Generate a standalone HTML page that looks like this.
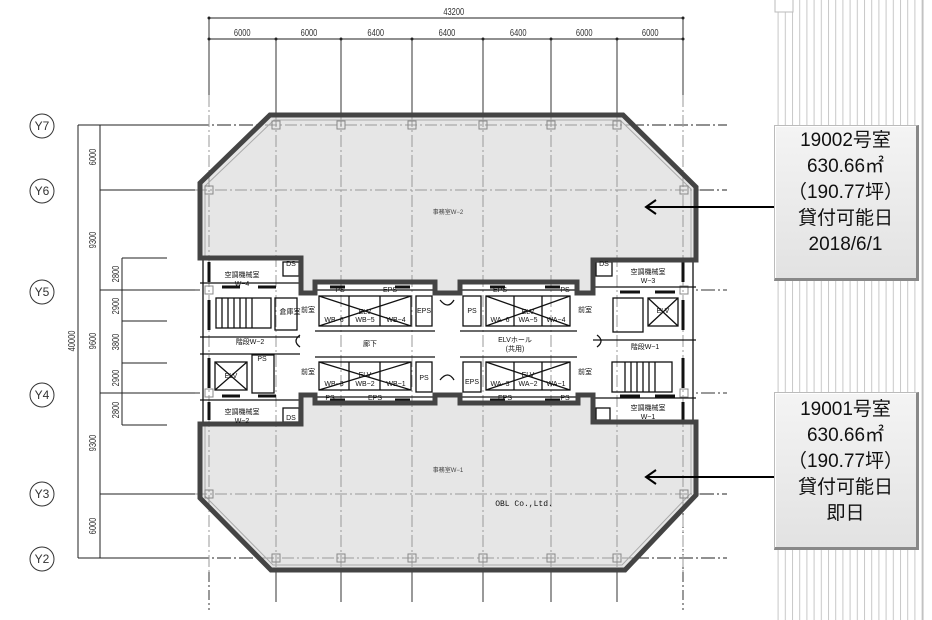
<!DOCTYPE html>
<html><head><meta charset="utf-8"><style>
html,body{margin:0;padding:0;background:#fff;width:932px;height:620px;overflow:hidden}
svg{position:absolute;left:0;top:0}
.box{position:absolute;left:774px;width:141px;background:linear-gradient(#f4f4f4,#e2e2e2);border:1px solid #bbb;border-right:3px solid #888;border-bottom:3px solid #888;box-shadow:inset 1px 1px 0 #fff;font-family:"Liberation Sans","Noto Sans CJK JP",sans-serif;font-size:19px;line-height:26px;text-align:center;color:#111}
</style></head><body>
<svg width="932" height="620" viewBox="0 0 932 620" font-family="Liberation Sans, Noto Sans CJK JP, sans-serif">
<defs>
<pattern id="st" width="7.2" height="10" patternUnits="userSpaceOnUse"><rect width="7.2" height="10" fill="#fff"/><line x1="0.5" y1="0" x2="0.5" y2="10" stroke="#c8c8c8" stroke-width="1"/></pattern>
</defs>
<rect x="774" y="0" width="150" height="620" fill="url(#st)"/>
<line x1="923" y1="0" x2="923" y2="620" stroke="#bbb"/>
<rect x="775" y="-2" width="18" height="14" fill="#fff" stroke="#bbb"/>

<g stroke="#222" stroke-width="1" fill="none">
<line x1="209" y1="18" x2="683" y2="18"/>
<line x1="209" y1="39" x2="683" y2="39"/>
</g>
<g font-size="10" fill="#333" text-anchor="middle" transform="scale(0.75,1)">
<text x="605" y="15">43200</text>
<text x="323" y="36">6000</text><text x="412" y="36">6000</text><text x="501" y="36">6400</text><text x="596" y="36">6400</text><text x="691" y="36">6400</text><text x="779" y="36">6000</text><text x="867" y="36">6000</text>
</g>
<g stroke="#333" stroke-width="1">
<line x1="209" y1="18" x2="209" y2="95"/><line x1="276" y1="39" x2="276" y2="115"/><line x1="341" y1="39" x2="341" y2="115"/><line x1="412" y1="39" x2="412" y2="115"/><line x1="483" y1="39" x2="483" y2="115"/><line x1="551" y1="39" x2="551" y2="115"/><line x1="617" y1="39" x2="617" y2="115"/><line x1="683" y1="18" x2="683" y2="95"/>
<line x1="209" y1="572" x2="209" y2="610" stroke-dasharray="10,3,2,3"/><line x1="276" y1="572" x2="276" y2="602"/><line x1="341" y1="572" x2="341" y2="602"/><line x1="412" y1="572" x2="412" y2="602"/><line x1="483" y1="572" x2="483" y2="602"/><line x1="551" y1="572" x2="551" y2="602"/><line x1="617" y1="572" x2="617" y2="602"/><line x1="683" y1="500" x2="683" y2="610" stroke-dasharray="10,3,2,3"/>
</g>
<g fill="#222"><circle cx="209" cy="18" r="1.5"/><circle cx="683" cy="18" r="1.5"/><circle cx="209" cy="39" r="1.5"/><circle cx="276" cy="39" r="1.5"/><circle cx="341" cy="39" r="1.5"/><circle cx="412" cy="39" r="1.5"/><circle cx="483" cy="39" r="1.5"/><circle cx="551" cy="39" r="1.5"/><circle cx="617" cy="39" r="1.5"/><circle cx="683" cy="39" r="1.5"/></g>

<g stroke="#222" stroke-width="1">
<line x1="78" y1="125" x2="78" y2="558"/><line x1="100" y1="125" x2="100" y2="558"/>
<line x1="122" y1="258" x2="122" y2="425"/>
<line x1="122" y1="258" x2="167" y2="258"/><line x1="122" y1="321" x2="167" y2="321"/><line x1="122" y1="363" x2="167" y2="363"/><line x1="122" y1="425" x2="167" y2="425"/>
</g>
<g stroke="#222" stroke-width="1">
<line x1="78" y1="125" x2="195" y2="125"/><line x1="100" y1="190" x2="195" y2="190"/><line x1="100" y1="290" x2="195" y2="290"/><line x1="100" y1="393" x2="195" y2="393"/><line x1="100" y1="494" x2="195" y2="494"/><line x1="78" y1="558" x2="195" y2="558"/>
<g stroke-dasharray="14,3,2,3"><line x1="195" y1="125" x2="265" y2="125"/><line x1="630" y1="125" x2="727" y2="125"/><line x1="700" y1="190" x2="727" y2="190"/><line x1="195" y1="290" x2="727" y2="290" stroke="#333"/><line x1="195" y1="393" x2="727" y2="393" stroke="#333"/><line x1="700" y1="494" x2="727" y2="494"/><line x1="195" y1="558" x2="262" y2="558"/><line x1="635" y1="558" x2="727" y2="558"/></g>
</g>
<g font-size="10" fill="#333" text-anchor="middle">
<text transform="translate(96,157) rotate(-90) scale(0.75,1)">6000</text>
<text transform="translate(96,240) rotate(-90) scale(0.75,1)">9300</text>
<text transform="translate(96,341) rotate(-90) scale(0.75,1)">9600</text>
<text transform="translate(96,443) rotate(-90) scale(0.75,1)">9300</text>
<text transform="translate(96,526) rotate(-90) scale(0.75,1)">6000</text>
<text transform="translate(75,341) rotate(-90) scale(0.75,1)">40000</text>
<text transform="translate(119,274) rotate(-90) scale(0.75,1)">2800</text>
<text transform="translate(119,306) rotate(-90) scale(0.75,1)">2900</text>
<text transform="translate(119,342) rotate(-90) scale(0.75,1)">3800</text>
<text transform="translate(119,378) rotate(-90) scale(0.75,1)">2900</text>
<text transform="translate(119,410) rotate(-90) scale(0.75,1)">2800</text>
</g>
<g fill="#fff" stroke="#333" stroke-width="1">
<circle cx="42" cy="126" r="12"/><circle cx="42" cy="191" r="12"/><circle cx="42" cy="292" r="12"/><circle cx="42" cy="395" r="12"/><circle cx="42" cy="494" r="12"/><circle cx="42" cy="559" r="12"/>
</g>
<g font-size="12" fill="#333" text-anchor="middle">
<text x="42" y="130">Y7</text><text x="42" y="195">Y6</text><text x="42" y="296">Y5</text><text x="42" y="399">Y4</text><text x="42" y="498">Y3</text><text x="42" y="563">Y2</text>
</g>

<rect x="200" y="258" width="496" height="166" fill="#fff"/>
<path d="M200,258 L200,183 L270,115 L623,115 L696,187 L696,260 L593,260 L593,293 L577,293 L577,282 L460,282 L460,293 L435,293 L435,282 L315,282 L315,293 L301,293 L301,258 Z" fill="#e6e6e6"/>
<path d="M200,424 L301,424 L301,395 L315,395 L315,403 L435,403 L435,395 L460,395 L460,403 L578,403 L578,395 L593,395 L593,422 L696,422 L696,495 L625,570 L271,570 L200,498 Z" fill="#e6e6e6"/>
<g stroke="#999" stroke-width="1" stroke-dasharray="12,3,2,3" fill="none">
<line x1="209" y1="95" x2="209" y2="572"/><line x1="276" y1="115" x2="276" y2="572"/><line x1="341" y1="115" x2="341" y2="572"/><line x1="412" y1="115" x2="412" y2="572"/><line x1="483" y1="115" x2="483" y2="572"/><line x1="551" y1="115" x2="551" y2="572"/><line x1="617" y1="115" x2="617" y2="572"/><line x1="683" y1="95" x2="683" y2="572"/>
<line x1="265" y1="125" x2="630" y2="125"/><line x1="195" y1="190" x2="700" y2="190"/><line x1="195" y1="494" x2="700" y2="494"/><line x1="262" y1="558" x2="635" y2="558"/>
</g>
<g stroke="#aaa" stroke-width="1" fill="none">
<path d="M205,258 L205,186 L274,120 L620,120 L691,189 L691,258"/>
<path d="M205,426 L205,496 L273,565 L622,565 L691,493 L691,424"/>
</g>
<g fill="none" stroke="#888" stroke-width="1">
<rect x="272" y="121" width="8" height="8"/><rect x="337" y="121" width="8" height="8"/><rect x="408" y="121" width="8" height="8"/><rect x="479" y="121" width="8" height="8"/><rect x="547" y="121" width="8" height="8"/><rect x="613" y="121" width="8" height="8"/>
<rect x="205" y="186" width="8" height="8"/><rect x="680" y="186" width="8" height="8"/>
<rect x="205" y="490" width="8" height="8"/><rect x="680" y="490" width="8" height="8"/>
<rect x="272" y="554" width="8" height="8"/><rect x="337" y="554" width="8" height="8"/><rect x="408" y="554" width="8" height="8"/><rect x="479" y="554" width="8" height="8"/><rect x="547" y="554" width="8" height="8"/><rect x="613" y="554" width="8" height="8"/>
<rect x="205" y="286" width="8" height="8"/><rect x="680" y="286" width="8" height="8"/><rect x="205" y="389" width="8" height="8"/><rect x="680" y="389" width="8" height="8"/>
</g>

<g stroke="#111" stroke-width="1.3" fill="none">
<line x1="200" y1="283" x2="300" y2="283"/>
<rect x="216" y="298" width="55" height="30"/>
<path d="M222,298 v30 M228,298 v30 M234,298 v30 M240,298 v30 M246,298 v30 M252,298 v30"/>
<rect x="275" y="298" width="22" height="32"/>
<line x1="200" y1="337" x2="300" y2="337"/>
<line x1="200" y1="354" x2="300" y2="354"/>
<rect x="215" y="362" width="32" height="28"/><path d="M215,362 L247,390 M247,362 L215,390"/>
<rect x="252" y="355" width="22" height="38"/>
<line x1="200" y1="400" x2="300" y2="400"/>
<rect x="283" y="262" width="16" height="14"/><rect x="283" y="408" width="16" height="14"/>
<rect x="319" y="296" width="92" height="30"/><path d="M319,296 L411,326 M411,296 L319,326"/>
<path d="M349,296 v30 M380,296 v30"/>
<rect x="319" y="362" width="92" height="28"/><path d="M319,362 L411,390 M411,362 L319,390"/>
<path d="M349,362 v28 M380,362 v28"/>
<rect x="486" y="296" width="84" height="30"/><path d="M486,296 L570,326 M570,296 L486,326"/>
<path d="M514,296 v30 M542,296 v30"/>
<rect x="486" y="362" width="84" height="28"/><path d="M486,362 L570,390 M570,362 L486,390"/>
<path d="M514,362 v28 M542,362 v28"/>
<line x1="315" y1="290" x2="435" y2="290"/><line x1="315" y1="397" x2="435" y2="397"/>
<line x1="460" y1="290" x2="577" y2="290"/><line x1="460" y1="397" x2="577" y2="397"/>
<line x1="315" y1="331" x2="435" y2="331"/><line x1="315" y1="357" x2="435" y2="357"/>
<line x1="460" y1="331" x2="577" y2="331"/><line x1="460" y1="357" x2="577" y2="357"/>
<rect x="416" y="296" width="16" height="30"/><rect x="416" y="362" width="16" height="30"/>
<rect x="463" y="296" width="18" height="30"/><rect x="463" y="362" width="18" height="30"/>
<line x1="593" y1="287" x2="696" y2="287"/>
<rect x="613" y="298" width="30" height="34"/><rect x="648" y="298" width="30" height="28"/><path d="M648,298 L678,326 M678,298 L648,326"/>
<line x1="593" y1="340" x2="696" y2="340"/>
<rect x="612" y="362" width="60" height="30"/>
<path d="M625,362 v30 M631,362 v30 M637,362 v30 M643,362 v30 M649,362 v30 M655,362 v30"/>
<line x1="593" y1="398" x2="696" y2="398"/>
<rect x="596" y="262" width="16" height="14"/><rect x="596" y="408" width="14" height="12"/>
<line x1="203" y1="258" x2="203" y2="424"/><line x1="693" y1="258" x2="693" y2="424"/>
<path d="M440,300 q8,10 14,0 M440,380 q8,-10 14,0 M300,335 q-8,6 0,12 M597,335 q8,6 0,12"/>
</g>
<g stroke="#111" stroke-width="3">
<line x1="209" y1="262" x2="209" y2="282"/><line x1="209" y1="300" x2="209" y2="330"/><line x1="209" y1="358" x2="209" y2="388"/><line x1="209" y1="402" x2="209" y2="420"/>
<line x1="683" y1="262" x2="683" y2="282"/><line x1="683" y1="300" x2="683" y2="330"/><line x1="683" y1="358" x2="683" y2="388"/><line x1="683" y1="402" x2="683" y2="420"/>
<line x1="222" y1="287" x2="240" y2="287"/><line x1="258" y1="287" x2="276" y2="287"/><line x1="222" y1="396" x2="240" y2="396"/><line x1="258" y1="396" x2="276" y2="396"/>
<line x1="620" y1="292" x2="640" y2="292"/><line x1="655" y1="292" x2="675" y2="292"/><line x1="620" y1="396" x2="640" y2="396"/><line x1="655" y1="396" x2="675" y2="396"/>
<line x1="330" y1="287" x2="345" y2="287"/><line x1="395" y1="287" x2="410" y2="287"/><line x1="490" y1="287" x2="505" y2="287"/><line x1="545" y1="287" x2="560" y2="287"/>
<line x1="330" y1="400" x2="345" y2="400"/><line x1="395" y1="400" x2="410" y2="400"/><line x1="490" y1="400" x2="505" y2="400"/><line x1="545" y1="400" x2="560" y2="400"/>
</g>
<g stroke="#444" stroke-width="5" fill="none" stroke-linejoin="miter">
<path d="M200,258 L200,183 L270,115 L623,115 L696,187 L696,260 L593,260 L593,293 L577,293 L577,282 L460,282 L460,293 L435,293 L435,282 L315,282 L315,293 L301,293 L301,258 Z"/>
<path d="M200,424 L301,424 L301,395 L315,395 L315,403 L435,403 L435,395 L460,395 L460,403 L578,403 L578,395 L593,395 L593,422 L696,422 L696,495 L625,570 L271,570 L200,498 Z"/>
</g>
<g font-size="7" fill="#111" text-anchor="middle">
<text x="242" y="277">空調機械室</text><text x="242" y="286">W−4</text>
<text x="242" y="414">空調機械室</text><text x="242" y="423">W−2</text>
<text x="250" y="344">階段W−2</text><text x="290" y="314">倉庫室</text><text x="291" y="266">DS</text><text x="291" y="420">DS</text>
<text x="231" y="378">ELV</text><text x="262" y="361">PS</text>
<text x="365" y="314">ELV</text><text x="334" y="322">WB−6</text><text x="365" y="322">WB−5</text><text x="396" y="322">WB−4</text>
<text x="365" y="377">ELV</text><text x="334" y="386">WB−3</text><text x="365" y="386">WB−2</text><text x="396" y="386">WB−1</text>
<text x="528" y="314">ELV</text><text x="500" y="322">WA−6</text><text x="528" y="322">WA−5</text><text x="556" y="322">WA−4</text>
<text x="528" y="377">ELV</text><text x="500" y="386">WA−3</text><text x="528" y="386">WA−2</text><text x="556" y="386">WA−1</text>
<text x="370" y="346">廊下</text><text x="515" y="342">ELVホール</text><text x="515" y="351">(共用)</text>
<text x="424" y="313">EPS</text><text x="472" y="313">PS</text><text x="424" y="380">PS</text><text x="472" y="384">EPS</text>
<text x="340" y="292">PS</text><text x="390" y="292">EPS</text><text x="500" y="292">EPS</text><text x="565" y="292">PS</text>
<text x="330" y="400">PS</text><text x="375" y="400">EPS</text><text x="505" y="400">EPS</text><text x="565" y="400">PS</text>
<text x="308" y="312">前室</text><text x="308" y="374">前室</text><text x="585" y="312">前室</text><text x="585" y="374">前室</text>
<text x="648" y="274">空調機械室</text><text x="648" y="283">W−3</text>
<text x="648" y="410">空調機械室</text><text x="648" y="419">W−1</text>
<text x="645" y="349">階段W−1</text><text x="663" y="313">ELV</text><text x="604" y="266">DS</text>
</g>
<g font-size="6" fill="#444" text-anchor="middle">
<text x="448" y="214">事務室W−2</text><text x="448" y="472">事務室W−1</text>
</g>
<text x="524" y="506" font-size="8" fill="#111" text-anchor="middle" font-family="Liberation Mono, monospace">OBL Co.,Ltd.</text>

<g stroke="#000" stroke-width="2" fill="none">
<line x1="646" y1="207" x2="775" y2="207"/><path d="M656,200 L646,207 L656,214"/>
<line x1="646" y1="477" x2="775" y2="477"/><path d="M656,470 L646,477 L656,484"/>
</g>
</svg>
<div class="box" style="top:125px;height:150px;padding-top:2px">19002号室<br>630.66㎡<br>（190.77坪）<br>貸付可能日<br>2018/6/1</div>
<div class="box" style="top:392px;height:150px;padding-top:4px">19001号室<br>630.66㎡<br>（190.77坪）<br>貸付可能日<br>即日</div>
</body></html>
